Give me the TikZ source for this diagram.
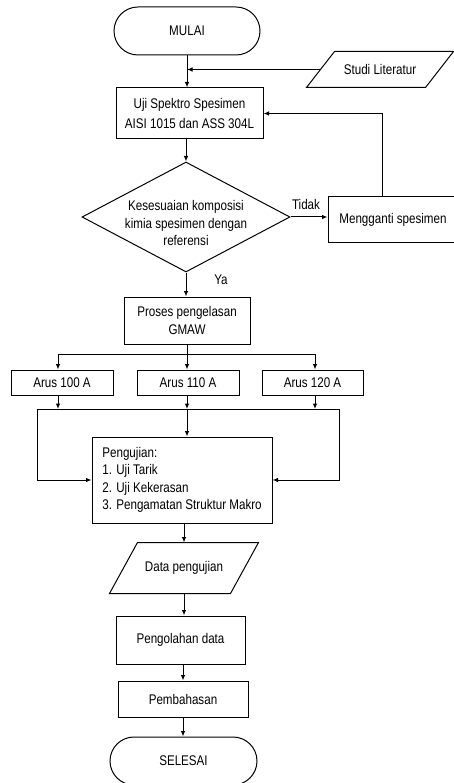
\documentclass[tikz,border=0pt]{standalone}
\usepackage{fontspec}
\setmainfont{Liberation Sans}[FakeStretch=0.83]
\usetikzlibrary{shapes.geometric,shapes.misc,arrows.meta,calc}
\begin{document}
\begin{tikzpicture}[x=1pt,y=-1pt,
  font=\fontsize{14}{17.5}\selectfont,
  line width=1pt,
  box/.style={draw, rectangle, inner sep=0pt, align=center},
  term/.style={draw, rounded rectangle, inner sep=0pt},
  iotext/.style={rectangle, inner sep=0pt},
  arr/.style={-{Latex[length=5.5pt,width=4.5pt]}},
  lbl/.style={inner sep=1pt}]
\fill[white] (0,0) rectangle (453,783);
\useasboundingbox (0,0) rectangle (453,783);

% nodes
\node[term, minimum width=146pt, minimum height=48pt] (mulai) at (187,31) {MULAI};
\node[iotext, minimum width=118pt, minimum height=35pt] (studi) at (380,69.5) {Studi Literatur};
\draw ($(studi.south west)+(-14,0)$) -- ($(studi.south east)+(-14,0)$)
   -- ($(studi.north east)+(14,0)$) -- ($(studi.north west)+(14,0)$) -- cycle;
\node[box, minimum width=147pt, minimum height=51pt] (uji) at (189.5,113.5)
  {Uji Spektro Spesimen\\[3pt]AISI 1015 dan ASS 304L};
\node[draw, diamond, minimum width=208pt, minimum height=110pt, inner sep=0pt]
  (dec) at (186,217) {};
\node[align=center, inner sep=0pt] (dectext) at (186,223)
  {Kesesuaian komposisi\\kimia spesimen dengan\\referensi};
\node[box, minimum width=130pt, minimum height=46pt] (ganti) at (393,220) {Mengganti spesimen};
\node[box, minimum width=126pt, minimum height=47pt] (proses) at (187,320.5)
  {Proses pengelasan\\GMAW};
\node[box, minimum width=102pt, minimum height=25pt] (a100) at (62,382.5) {Arus 100 A};
\node[box, minimum width=102pt, minimum height=25pt] (a110) at (188,382.5) {Arus 110 A};
\node[box, minimum width=101pt, minimum height=25pt] (a120) at (312.5,382.5) {Arus 120 A};
\node[draw, rectangle, inner sep=0pt, align=left, minimum width=180pt, minimum height=86pt]
  (peng) at (182,480)
  {Pengujian:\\1. Uji Tarik\\2. Uji Kekerasan\\3. Pengamatan Struktur Makro};
\node[iotext, minimum width=120pt, minimum height=50pt] (data) at (184,568) {Data pengujian};
\draw ($(data.south west)+(-14,0)$) -- ($(data.south east)+(-14,0)$)
   -- ($(data.north east)+(14,0)$) -- ($(data.north west)+(14,0)$) -- cycle;
\node[box, minimum width=129pt, minimum height=48pt] (olah) at (180.5,640) {Pengolahan data};
\node[box, minimum width=130pt, minimum height=36pt] (bahas) at (183,699) {Pembahasan};
\node[term, minimum width=147pt, minimum height=48pt] (selesai) at (183.5,761) {SELESAI};

\node[lbl] (tidak) at (306,204) {Tidak};
\node[lbl] (ya) at (221,280) {Ya};

% helper coordinates
\coordinate (bl) at (58,354);
\coordinate (bm) at (187,354);
\coordinate (brr) at (315,354);
\coordinate (ml) at (37,409);
\coordinate (mm) at (187,409);
\coordinate (mr) at (339,409);

% connectors
\draw[arr] (mulai.south) -- (mulai.south |- uji.north);
\draw[arr] (studi.west) -- (studi.west -| mulai.south);
\draw[arr] (dec.north |- uji.south) -- (dec.north);
\draw[arr] (dec.east) -- (dec.east -| ganti.west);
\draw[arr] ($(ganti.north)+(-11,0)$) |- (uji.east);
\draw[arr] (dec.south) -- (dec.south |- proses.north);

\draw (bm |- proses.south) -- (bm);
\draw (bl) -- (brr);
\draw[arr] (bl) -- (bl |- a100.north);
\draw[arr] (bm) -- (bm |- a110.north);
\draw[arr] (brr) -- (brr |- a120.north);

\draw[arr] (bl |- a100.south) -- (bl |- ml);
\draw[arr] (bm |- a110.south) -- (mm);
\draw[arr] (brr |- a120.south) -- (brr |- mr);
\draw (ml) -- (mr);
\draw[arr] (mm) -- (mm |- peng.north);
\draw[arr] (ml) |- (peng.west);
\draw[arr] (mr) |- (peng.east);

\draw[arr] (data.north |- peng.south) -- (data.north);
\draw[arr] (data.south) -- (data.south |- olah.north);
\draw[arr] (bahas.north |- olah.south) -- (bahas.north);
\draw[arr] (bahas.south) -- (bahas.south |- selesai.north);
\end{tikzpicture}
\end{document}
